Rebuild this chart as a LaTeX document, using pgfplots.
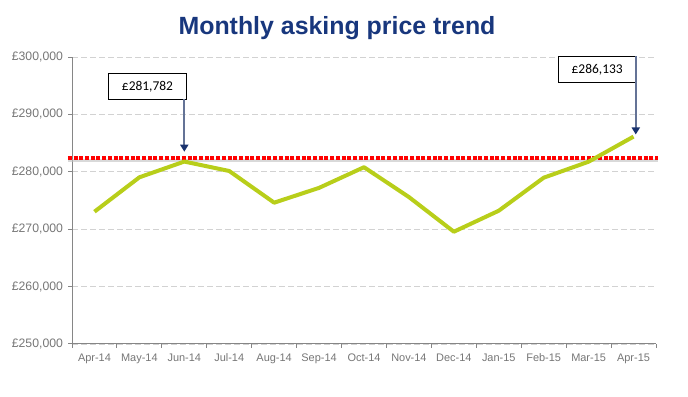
\documentclass[border=0pt]{standalone}
\usepackage{fontspec}
\setmainfont{Liberation Sans}
\newfontfamily\calfont{Carlito}
\usepackage{pgfplots}
\pgfplotsset{compat=1.18}
\usetikzlibrary{arrows.meta}
\definecolor{titleblue}{RGB}{24,55,125}
\definecolor{linegreen}{RGB}{184,206,26}
\definecolor{tickgray}{RGB}{118,118,118}
\definecolor{axisgray}{RGB}{134,134,134}
\definecolor{gridgray}{RGB}{210,210,210}
\definecolor{arrowline}{RGB}{100,115,150}
\definecolor{arrowhead}{RGB}{25,50,110}
\begin{document}
\begin{tikzpicture}
\useasboundingbox (0,0) rectangle (688bp,397bp);
\node[anchor=base, text=titleblue, font=\fontsize{25}{29}\selectfont\bfseries] at (337bp,362bp) {Monthly asking price trend};
\begin{axis}[
  at={(72bp,53bp)}, anchor=south west,
  scale only axis, width=584bp, height=287bp,
  xmin=-0.5, xmax=12.5, ymin=250000, ymax=300000,
  axis x line*=bottom, axis y line*=left,
  axis line style={axisgray, line width=1bp, -},
  xtick={0,...,12},
  xticklabels={Apr-14,May-14,Jun-14,Jul-14,Aug-14,Sep-14,Oct-14,Nov-14,Dec-14,Jan-15,Feb-15,Mar-15,Apr-15},
  minor xtick={-0.5,0.5,...,12.5},
  major x tick style={draw=none},
  minor x tick style={axisgray, line width=1bp},
  ytick={250000,260000,...,300000},
  yticklabels={{£250,000},{£260,000},{£270,000},{£280,000},{£290,000},{£300,000}},
  major y tick style={axisgray, line width=1bp},
  tick align=outside,
  major tick length=4bp, minor tick length=4bp,
  ymajorgrids,
  major grid style={gridgray, dashed, line width=0.8bp, dash pattern=on 6bp off 3bp},
  tick label style={text=tickgray},
  xticklabel style={yshift=-2bp, font=\fontsize{11}{13}\selectfont},
  yticklabel style={xshift=-1.5bp, font=\fontsize{12.3}{14}\selectfont},
  scaled y ticks=false,
  clip=false,
]
\addplot[black!25, opacity=0.6, line width=3bp] coordinates {(-0.59,282050) (12.55,282050)};
\addplot[red, line width=4bp, dash pattern=on 4bp off 1.7bp] coordinates {(-0.59,282450) (12.55,282450)};
\addplot[linegreen, line width=4bp, line join=round] coordinates {
(0,273050) (1,279040) (2,281782) (3,280140) (4,274620) (5,277200) (6,280800) (7,275600) (8,269560) (9,273220) (10,278970) (11,281760) (12,286133)};
\node[draw=black, line width=0.8bp, fill=white, minimum width=78bp, minimum height=26bp, inner sep=0pt, font=\calfont\fontsize{13.5}{15}\selectfont] at (axis cs:1.18,294890) {£281,782};
\node[draw=black, line width=0.8bp, fill=white, minimum width=78bp, minimum height=26bp, inner sep=0pt, font=\calfont\fontsize{13.5}{15}\selectfont] at (axis cs:11.19,297850) {£286,133};
\draw[arrowline, line width=1.8bp, -{Triangle[length=7bp, width=8bp, color=arrowhead]}] (axis cs:2,292620) -- (axis cs:2,283500);
\draw[arrowline, line width=1.8bp, -{Triangle[length=7bp, width=8bp, color=arrowhead]}] (axis cs:12.05,300170) -- (axis cs:12.05,286500);
\end{axis}
\end{tikzpicture}
\end{document}
